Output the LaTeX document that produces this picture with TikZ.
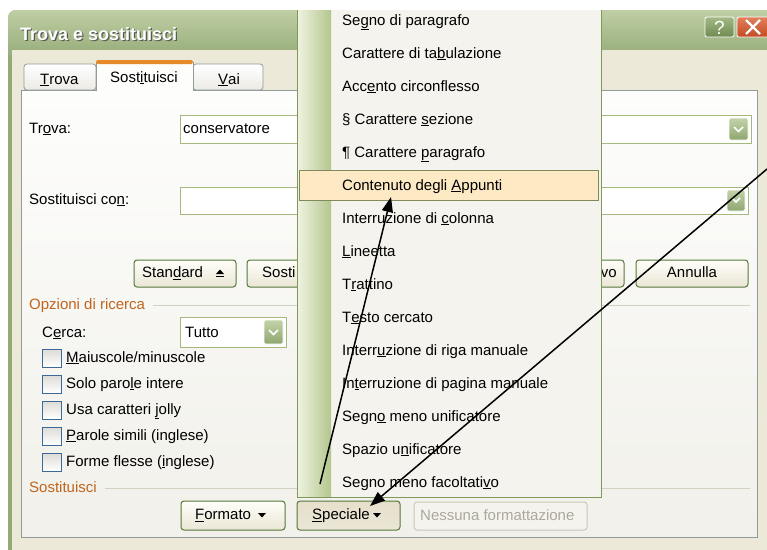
\documentclass[tikz,border=0pt]{standalone}
\usepackage{fontspec}
\setmainfont{Liberation Sans}
\usetikzlibrary{arrows.meta,calc}
\definecolor{winbg}{HTML}{ECE9D8}
\definecolor{tbtop}{HTML}{BFCEA4}
\definecolor{tbbot}{HTML}{93AA76}
\definecolor{panelborder}{HTML}{919B9C}
\definecolor{paneltop}{HTML}{FDFDFC}
\definecolor{panelbot}{HTML}{F1F0EA}
\definecolor{fieldborder}{HTML}{A5B97F}
\definecolor{btnborder}{HTML}{56793A}
\definecolor{btntop}{HTML}{FFFEF8}
\definecolor{btnbot}{HTML}{EAE6D6}
\definecolor{btnpress}{HTML}{E6DFCB}
\definecolor{grouptext}{HTML}{C0651E}
\definecolor{groupline}{HTML}{D3D2C2}
\definecolor{chkborder}{HTML}{3C6A98}
\definecolor{chktop}{HTML}{DCDBD5}
\definecolor{menubg}{HTML}{F4F3EE}
\definecolor{menuborder}{HTML}{7D9A5A}
\definecolor{stripeL}{HTML}{EEF2DF}
\definecolor{stripeR}{HTML}{B4C68E}
\definecolor{hlfill}{HTML}{FDE9C3}
\definecolor{hlborder}{HTML}{7F8B5C}
\definecolor{disabledtxt}{HTML}{ACA899}
\definecolor{disabledborder}{HTML}{CAC8BB}
\definecolor{tabactive}{HTML}{E68B2C}
\definecolor{tabbot}{HTML}{ECEBE4}
\definecolor{droptop}{HTML}{C2D3A8}
\definecolor{dropbot}{HTML}{8FA670}
\definecolor{helptop}{HTML}{A3B987}
\definecolor{helpbot}{HTML}{6F8A50}
\definecolor{closetop}{HTML}{E3805C}
\definecolor{closebot}{HTML}{C24A22}
\newcommand\mn[1]{\underline{#1}}
\begin{document}
\begin{tikzpicture}[x=1pt,y=-1pt,font=\fontsize{15}{18}\selectfont,
  lbl/.style={anchor=west,inner sep=0pt,text height=11pt,text depth=3pt},
  btn/.style={draw=btnborder,line width=1pt,rounded corners=3pt,top color=btntop,bottom color=btnbot},
  field/.style={draw=fieldborder,line width=1pt,fill=white},
  dropbtn/.style={draw=white,line width=0.6pt,rounded corners=2pt,top color=droptop,bottom color=dropbot},
  chk/.style={draw=chkborder,line width=1pt,top color=chktop,bottom color=white},
  grp/.style={lbl,text=grouptext},
  tabbox/.style={draw=panelborder,line width=0.8pt,top color=white,bottom color=tabbot},
  chev/.style={draw=white,line width=1.6pt},
  tri/.style={fill=black},
  pointer/.style={draw=black,line width=1.5pt,-{Triangle[length=15pt,width=11pt]}}
]
\useasboundingbox (0,0) rectangle (767,549);
\fill[white] (0,0) rectangle (767,549);
\begin{scope}
\clip (0,0) rectangle (767,549);
% ---------- window ----------
\fill[tbbot,rounded corners=8pt] (8,10) rectangle (800,580);
\shade[top color=tbtop,bottom color=tbbot,rounded corners=8pt] (8,10) rectangle (800,60);
\fill[winbg] (12,50) rectangle (800,580);
\node[anchor=west,inner sep=0pt,font=\fontsize{18}{21}\selectfont\bfseries,text=black!65] at (21.2,35.2) {Trova e sostituisci};
\node[anchor=west,inner sep=0pt,font=\fontsize{18}{21}\selectfont\bfseries,text=white] (title) at (20,34) {Trova e sostituisci};
% help / close buttons
\shade[top color=helptop,bottom color=helpbot,draw=white,line width=0.8pt,rounded corners=2pt] (705,17) rectangle (734,37);
\node[text=white,inner sep=0pt,font=\fontsize{19}{22}\selectfont] (help) at (719.5,27.5) {?};
\shade[top color=closetop,bottom color=closebot,draw=white,line width=0.8pt,rounded corners=2pt] (737,17) rectangle (775,37);
\coordinate (closec) at (753,27);
\draw[white,line width=2.2pt] ($(closec)+(-7,-7)$) -- ($(closec)+(7,7)$) ($(closec)+(-7,7)$) -- ($(closec)+(7,-7)$);
% ---------- panel ----------
\shade[top color=paneltop,bottom color=panelbot] (21,90) rectangle (757,537);
\draw[panelborder,line width=0.8pt] (21,90) rectangle (757,537);
% tabs
\shade[tabbox,rounded corners=3pt] (24,90) -- (24,64) -- (96,64) -- (96,90) -- cycle;
\shade[tabbox,rounded corners=3pt] (193,90) -- (193,64) -- (263,64) -- (263,90) -- cycle;
\fill[paneltop] (96,61) rectangle (193,91);
\draw[panelborder,line width=0.8pt] (96,91) -- (96,62) (193,62) -- (193,91);
\fill[tabactive,rounded corners=2pt] (96,60) rectangle (193,64);
\node[lbl] (tab1) at (40,80) {\mn{T}rova};
\node[lbl] (tab2) at (110,78) {Sost\mn{i}tuisci};
\node[lbl] (tab3) at (218,80) {\mn{V}ai};
% ---------- fields ----------
\node[lbl] (lfind) at (29,129) {Tr\mn{o}va:};
\draw[field] (180,115) rectangle (751,143);
\node[lbl] (vfind) at (183,129) {conservatore};
\shade[dropbtn] (729,118) rectangle (748,140);
\draw[chev] (734,127) -- (738.5,131.5) -- (743,127);
\node[lbl] (lrepl) at (29,200) {Sostituisci co\mn{n}:};
\draw[field] (180,187) rectangle (748,214);
\shade[dropbtn] (727,190) rectangle (745,211);
\draw[chev] (732,198) -- (736,202) -- (740,198);
% ---------- buttons row ----------
\shade[btn] (134,260) rectangle (236,287);
\node[lbl] (bstd) at (142,273.5) {Stan\mn{d}ard};
\fill[tri] (216,274) -- (220,269.5) -- (224,274) -- cycle;
\fill[tri] (216,276) rectangle (224,277.2);
\shade[btn] (247,260) rectangle (330,287);
\node[lbl] (bsost) at (262,273.5) {Sosti};
\shade[btn] (560,260) rectangle (624,287);
\node[lbl,anchor=east] (bvo) at (617,273.5) {vo};
\shade[btn] (636,260) rectangle (748,287);
\node[inner sep=0pt,text height=11pt,text depth=3pt] (bann) at (692,273.5) {Annulla};
% ---------- search options ----------
\node[grp] (gopt) at (29,305) {Opzioni di ricerca};
\draw[groupline,line width=0.8pt] (153,305) -- (750,305);
\node[lbl] (lcerca) at (42,333) {C\mn{e}rca:};
\draw[field] (180,317) rectangle (286,347);
\node[lbl] (vcerca) at (185,333) {Tutto};
\shade[dropbtn] (264,320) rectangle (283,344);
\draw[chev] (269,330) -- (273.5,334.5) -- (278,330);
\foreach \yy/\tt [count=\i] in {358/{\mn{M}aiuscole/minuscole},384/{Solo paro\mn{l}e intere},410/{Usa caratteri \mn{j}olly},436/{\mn{P}arole simili (inglese)},462/{Forme flesse (\mn{i}nglese)}}{
  \shade[chk] (42,\yy-9) rectangle (61,\yy+9);
  \node[lbl] (opt\i) at (66,\yy) {\tt};
}
\node[grp] (grepl) at (29,488) {Sostituisci};
\draw[groupline,line width=0.8pt] (105,488) -- (750,488);
% ---------- bottom buttons ----------
\shade[btn] (181,501) rectangle (285,530);
\node[lbl] (bfmt) at (195,515.5) {\mn{F}ormato};
\fill[tri] (258,513) -- (266,513) -- (262,517.5) -- cycle;
\shade[btn,top color=btnpress,bottom color=btnpress!80!white] (297,501) rectangle (400,530);
\node[lbl] (bspec) at (312,515.5) {\mn{S}peciale};
\fill[tri] (373,513) -- (381,513) -- (377,517.5) -- cycle;
\draw[disabledborder,line width=1pt,rounded corners=3pt,fill=menubg] (414,502) rectangle (587,530);
\node[lbl,text=disabledtxt] (bnone) at (420,516) {Nessuna formattazione};
% ---------- menu ----------
\fill[menubg] (297,10) rectangle (601,497);
\shade[left color=stripeL,right color=stripeR] (298,10) rectangle (331,496);
\draw[menuborder,line width=1pt] (297,10) -- (297,497) -- (601,497) -- (601,10);
\draw[hlborder,line width=1pt,fill=hlfill] (299,170) rectangle (598,200);
\foreach \yy/\tt [count=\i] in {
  21/{Se\mn{g}no di paragrafo},
  54/{Carattere di ta\mn{b}ulazione},
  87/{Acc\mn{e}nto circonflesso},
  120/{§ Carattere \mn{s}ezione},
  153/{¶ Carattere \mn{p}aragrafo},
  186/{Contenuto degli \mn{A}ppunti},
  219/{Interruzione di \mn{c}olonna},
  252/{\mn{L}ineetta},
  285/{T\mn{r}attino},
  318/{T\mn{e}sto cercato},
  351/{Interr\mn{u}zione di riga manuale},
  384/{In\mn{t}erruzione di pagina manuale},
  417/{Segn\mn{o} meno unificatore},
  450/{Spazio u\mn{n}ificatore},
  483/{Segno meno facoltati\mn{v}o}}{
  \node[lbl] (m\i) at (342,\yy) {\tt};
}
% ---------- pointers ----------
\coordinate (p1start) at (320,484);
\coordinate (p1tip) at (391,197);
\coordinate (p2start) at (767,169);
\coordinate (p2tip) at (370,506);
\draw[pointer] (p1start) -- (p1tip);
\draw[pointer] (p2start) -- (p2tip);
\end{scope}
\end{tikzpicture}
\end{document}
